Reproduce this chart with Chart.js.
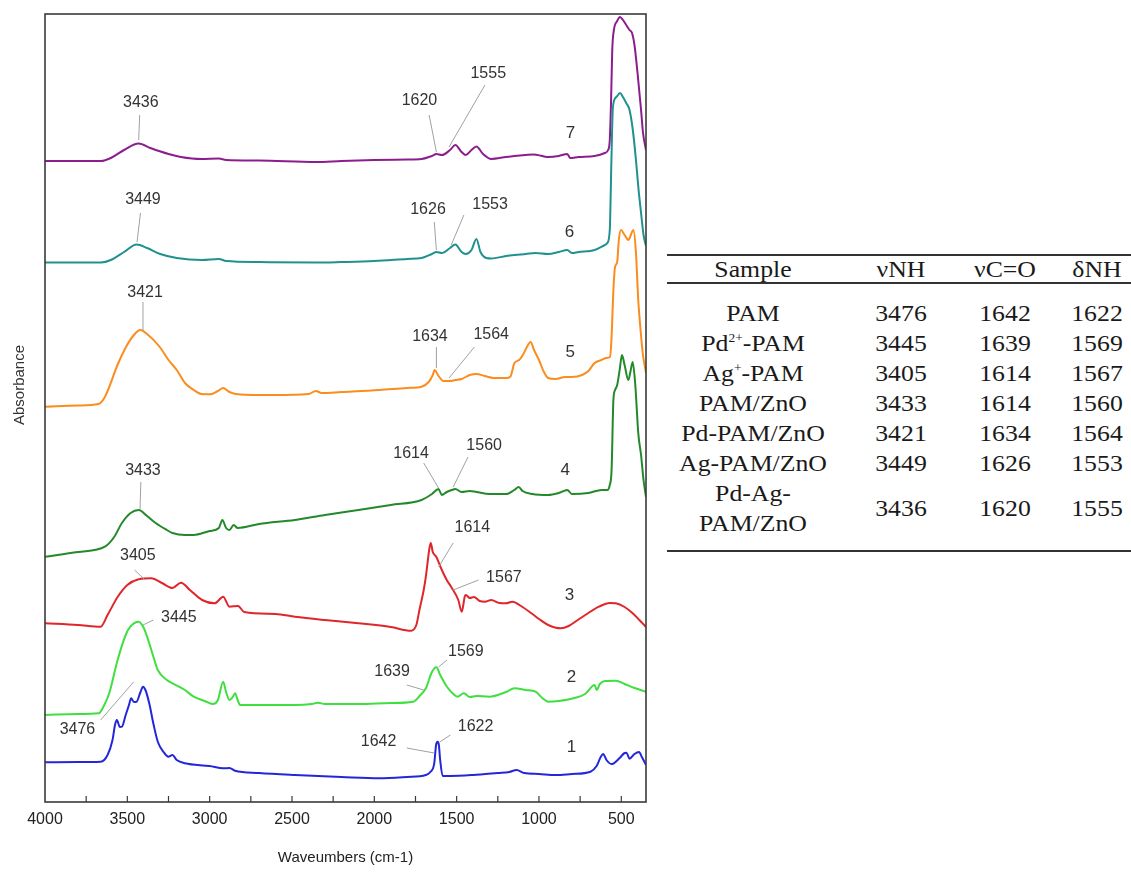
<!DOCTYPE html>
<html><head><meta charset="utf-8">
<script src="https://cdn.jsdelivr.net/npm/chart.js@4.4.1/dist/chart.umd.min.js"></script>
<style>
html,body{margin:0;padding:0;background:#fff;}
#wrap{position:relative;width:1131px;height:883px;overflow:hidden;background:#fff;}
#c{position:absolute;left:0;top:0;}
.rule{position:absolute;left:667px;width:464px;height:2px;background:#333;}
.cell{position:absolute;font-family:"Liberation Serif",serif;font-size:23px;color:#1a1a1a;transform:translate(-50%,-50%) scaleX(1.12);white-space:nowrap;line-height:30px;text-align:center;}
.cell sup{font-size:12px;vertical-align:9px;line-height:0;}
</style></head>
<body><div id="wrap"><canvas id="c" width="660" height="883"></canvas><div id="tbl"></div></div>
<script>
// ---------------- DATA ----------------
const xTickValues = [4000,3500,3000,2500,2000,1500,1000,500];

// 1: PAM (blue)
const wn1 = [4000,3800,3662,3620,3590,3575,3564,3545,3533,3510,3490,3477,3460,3444,3420,3405,3390,3367,3340,3315,3280,3251,3226,3200,3150,3000,2918,2880,2846,2700,2482,2200,1969,1800,1687,1660,1636,1625,1615,1608,1600,1585,1540,1400,1250,1180,1136,1090,1000,900,800,687,650,625,610,590,560,546,510,480,469,450,420,392,375,350];
const abs1 = [0.397,0.40,0.403,0.47,0.62,0.77,0.82,0.75,0.753,0.87,0.97,1.037,1.00,1.003,1.10,1.153,1.12,0.987,0.77,0.603,0.50,0.453,0.47,0.42,0.387,0.36,0.337,0.34,0.313,0.29,0.27,0.25,0.237,0.25,0.27,0.30,0.387,0.57,0.603,0.57,0.42,0.26,0.26,0.27,0.29,0.30,0.32,0.29,0.28,0.27,0.28,0.303,0.36,0.45,0.48,0.42,0.38,0.387,0.44,0.49,0.493,0.433,0.48,0.50,0.45,0.37];

// 2: Pd2+-PAM (light green)
const wn2 = [4000,3800,3674,3640,3610,3559,3510,3482,3431,3400,3380,3345,3315,3260,3226,3150,3097,3030,2982,2950,2918,2900,2880,2860,2846,2830,2815,2700,2482,2380,2341,2300,2097,1900,1764,1720,1687,1650,1623,1600,1559,1520,1495,1456,1420,1380,1303,1200,1149,1080,1021,980,944,880,790,720,662,650,630,600,533,480,420,350];
const abs2 = [0.87,0.88,0.887,0.97,1.087,1.42,1.67,1.753,1.803,1.74,1.653,1.47,1.32,1.22,1.187,1.12,1.053,1.01,0.98,1.02,1.203,1.10,1.02,1.05,1.087,1.02,0.97,0.97,0.97,0.98,0.993,0.98,0.98,0.99,1.003,1.07,1.137,1.30,1.347,1.27,1.153,1.08,1.053,1.087,1.05,1.06,1.053,1.10,1.137,1.12,1.103,1.04,1.003,1.01,1.037,1.08,1.17,1.12,1.18,1.21,1.213,1.18,1.14,1.103];

// 3: Ag+-PAM (red)
const wn3 = [4000,3800,3662,3620,3559,3500,3431,3354,3290,3226,3174,3120,3046,2969,2918,2880,2828,2790,2600,2482,2300,2097,1900,1777,1745,1726,1700,1687,1665,1657,1645,1623,1598,1560,1533,1490,1469,1450,1444,1420,1395,1360,1328,1290,1240,1200,1162,1100,1046,1000,944,867,820,764,700,636,570,533,480,431,390,350];
const abs3 = [1.787,1.77,1.753,1.87,2.05,2.17,2.227,2.237,2.19,2.14,2.193,2.12,2.02,1.987,2.053,1.953,1.96,1.90,1.88,1.853,1.82,1.787,1.75,1.713,1.77,1.92,2.12,2.253,2.54,2.59,2.50,2.45,2.35,2.22,2.15,2.02,1.903,2.06,2.07,2.04,2.05,2.01,2.003,2.02,1.99,1.987,2.003,1.95,1.887,1.83,1.77,1.737,1.76,1.82,1.89,1.953,1.99,1.987,1.95,1.887,1.82,1.75];

// 4: PAM/ZnO (dark green)
const wn4 = [4000,3800,3636,3580,3533,3480,3431,3380,3328,3260,3226,3150,3097,3000,2944,2923,2900,2880,2854,2830,2700,2482,2300,2097,1900,1713,1650,1610,1590,1560,1530,1508,1470,1420,1380,1300,1200,1150,1123,1100,1040,944,880,828,800,700,620,585,570,559,548,538,525,510,496,480,457,445,431,415,397,380,365,350];
const abs4 = [2.453,2.50,2.553,2.65,2.79,2.89,2.92,2.86,2.79,2.72,2.69,2.67,2.67,2.71,2.74,2.82,2.74,2.72,2.77,2.74,2.78,2.82,2.87,2.92,2.97,3.02,3.08,3.13,3.07,3.10,3.12,3.13,3.10,3.11,3.10,3.08,3.08,3.12,3.15,3.11,3.08,3.07,3.09,3.12,3.08,3.09,3.12,3.12,3.17,3.32,4.02,4.12,4.17,4.32,4.47,4.37,4.22,4.30,4.40,4.17,3.69,3.47,3.22,3.05];

// 5: Pd-PAM/ZnO (orange)
const wn5 = [4000,3800,3674,3640,3610,3560,3508,3460,3421,3380,3303,3250,3200,3150,3097,3050,2995,2950,2918,2880,2841,2700,2610,2400,2354,2320,2200,1969,1800,1713,1670,1645,1634,1610,1580,1540,1508,1470,1420,1380,1330,1277,1200,1174,1149,1120,1098,1070,1051,1030,1000,970,944,900,841,800,738,700,662,620,590,569,560,548,538,525,515,502,480,457,440,427,412,397,383,370,350];
const abs5 = [3.953,3.965,3.98,4.04,4.15,4.37,4.55,4.67,4.72,4.68,4.55,4.42,4.32,4.19,4.12,4.08,4.077,4.11,4.14,4.10,4.08,4.07,4.07,4.08,4.11,4.09,4.10,4.12,4.14,4.153,4.20,4.27,4.32,4.26,4.21,4.21,4.22,4.23,4.27,4.28,4.26,4.24,4.24,4.253,4.39,4.42,4.47,4.56,4.60,4.52,4.42,4.30,4.24,4.23,4.25,4.25,4.27,4.31,4.39,4.42,4.44,4.45,4.62,5.12,5.35,5.40,5.62,5.72,5.67,5.62,5.68,5.72,5.52,5.02,4.72,4.49,4.29];

// 6: Ag-PAM/ZnO (teal)
const wn6 = [4000,3800,3660,3600,3520,3444,3380,3300,3200,3046,2944,2900,2700,2354,2200,2000,1800,1713,1650,1623,1590,1540,1508,1470,1444,1410,1380,1355,1320,1290,1200,1149,1080,1021,944,880,828,800,760,662,600,585,570,560,551,530,508,490,470,450,430,411,395,380,365,350];
const abs6 = [5.395,5.395,5.395,5.42,5.50,5.575,5.54,5.48,5.44,5.42,5.43,5.41,5.40,5.395,5.40,5.41,5.43,5.44,5.48,5.50,5.49,5.54,5.575,5.50,5.48,5.52,5.63,5.50,5.44,5.435,5.46,5.47,5.48,5.49,5.48,5.50,5.52,5.49,5.50,5.52,5.57,5.59,5.72,6.42,6.95,7.05,7.09,7.05,6.99,6.92,6.72,6.42,6.12,5.89,5.67,5.56];

// 7: Pd-Ag-PAM/ZnO (purple)
const wn7 = [4000,3800,3660,3600,3520,3431,3360,3250,3175,3050,2944,2900,2700,2354,2200,2000,1800,1713,1650,1623,1590,1540,1508,1470,1444,1410,1380,1340,1290,1200,1149,1080,1033,980,944,880,828,810,760,662,600,580,570,562,555,545,525,508,490,470,450,435,420,399,380,368,350];
const abs7 = [6.41,6.41,6.41,6.44,6.52,6.585,6.54,6.48,6.45,6.43,6.435,6.42,6.415,6.40,6.41,6.42,6.425,6.43,6.46,6.48,6.47,6.52,6.57,6.50,6.47,6.52,6.555,6.48,6.43,6.45,6.46,6.47,6.475,6.46,6.45,6.46,6.48,6.44,6.45,6.46,6.49,6.52,6.62,7.02,7.52,7.72,7.81,7.85,7.82,7.77,7.72,7.69,7.57,7.25,6.92,6.69,6.52];

const curveNames = ['1','2','3','4','5','6','7'];
const curveColors = ['#2327d9','#3fdf3f','#e0262a','#23892a','#fb8c1e','#1f918f','#8c1d8d'];

// peak annotations: label, text position (wavenumber, absorbance), leader line (w1,a1,w2,a2)
const annLabels = ['3436','1620','1555','3449','1626','1553','3421','1634','1564','3433','1614','1560','1614','3405','1567','3445','1639','1569','3476','1642','1622'];
const annTextWn = [3418,1726,1308,3405,1674,1297,3392,1662,1290,3405,1777,1333,1405,3436,1213,3187,1892,1444,3803,1974,1385];
const annTextAb = [6.99,7.01,7.28,6.02,5.92,5.97,5.09,4.65,4.67,3.31,3.48,3.56,2.74,2.46,2.24,1.84,1.30,1.50,0.72,0.60,0.75];
const annLineFrom = [[3425,6.87],[1667,6.87],[1328,7.17],[3420,5.89],[1636,5.80],[1456,5.87],[3405,5.00],[1623,4.55],[1392,4.55],[3418,3.20],[1700,3.39],[1431,3.45],[1521,2.59],[3456,2.32],[1367,2.22],[3341,1.82],[1803,1.17],[1559,1.42],[3662,0.82],[1803,0.54],[1538,0.67]];
const annLineTo = [[3431,6.62],[1623,6.50],[1546,6.55],[3441,5.60],[1623,5.52],[1533,5.57],[3405,4.72],[1623,4.34],[1546,4.24],[3423,2.92],[1610,3.14],[1521,3.15],[1610,2.35],[3392,2.22],[1521,2.12],[3405,1.77],[1700,1.12],[1610,1.35],[3462,1.20],[1636,0.49],[1603,0.60]];
// curve number labels
const numLabelWn = [803,803,815,841,810,815,808];
const numLabelAb = [0.55,1.25,2.07,3.32,4.50,5.70,6.69];

// table
const tblSamples = ['PAM','Pd<sup>2+</sup>-PAM','Ag<sup>+</sup>-PAM','PAM/ZnO','Pd-PAM/ZnO','Ag-PAM/ZnO','Pd-Ag-<br>PAM/ZnO'];
const tblNH = ['3476','3445','3405','3433','3421','3449','3436'];
const tblCO = ['1642','1639','1614','1614','1634','1626','1620'];
const tblDNH = ['1622','1569','1567','1560','1564','1553','1555'];
const tblHead = ['Sample','νNH','νC=O','δNH'];

// ---------------- TABLE ----------------
(function(){
  const t = document.getElementById('tbl');
  const colX = [753,901,1005,1097];
  function add(html, x, y){ const d=document.createElement('div'); d.className='cell'; d.innerHTML=html; d.style.left=x+'px'; d.style.top=y+'px'; t.appendChild(d); }
  function rule(y){ const r=document.createElement('div'); r.className='rule'; r.style.top=y+'px'; t.appendChild(r); }
  rule(254); rule(282); rule(550);
  tblHead.forEach((h,i)=>add(h,colX[i],270));
  const rowY = [314,344,374,404,434,464,509];
  for(let i=0;i<tblSamples.length;i++){
    add(tblSamples[i],colX[0],rowY[i]);
    add(tblNH[i],colX[1],rowY[i]);
    add(tblCO[i],colX[2],rowY[i]);
    add(tblDNH[i],colX[3],rowY[i]);
  }
})();

// ---------------- CHART ----------------
const framePlugin = {
  id:'frame',
  afterDatasetsDraw(chart){
    const {ctx, chartArea:a, scales:{x}} = chart;
    ctx.save();
    ctx.strokeStyle='#3a3a3a'; ctx.lineWidth=1.6;
    ctx.strokeRect(a.left, a.top, a.right-a.left, a.bottom-a.top);
    ctx.lineWidth=1.2;
    for(let v=500; v<4000; v+=250){
      const px = x.getPixelForValue(v);
      ctx.beginPath(); ctx.moveTo(px, a.bottom); ctx.lineTo(px, a.bottom-6); ctx.stroke();
    }
    // y axis title
    ctx.translate(20, 385); ctx.rotate(-Math.PI/2);
    ctx.fillStyle='#333'; ctx.font='15px "Liberation Sans", Arial, sans-serif';
    ctx.textAlign='center'; ctx.textBaseline='middle';
    ctx.fillText('Absorbance',0,0);
    ctx.restore();
  }
};
const annPlugin = {
  id:'ann',
  afterDatasetsDraw(chart){
    const {ctx, scales:{x,y}} = chart;
    ctx.save();
    ctx.strokeStyle='#a0a0a0'; ctx.lineWidth=1;
    for(let i=0;i<annLabels.length;i++){
      ctx.beginPath();
      ctx.moveTo(x.getPixelForValue(annLineFrom[i][0]), y.getPixelForValue(annLineFrom[i][1]));
      ctx.lineTo(x.getPixelForValue(annLineTo[i][0]), y.getPixelForValue(annLineTo[i][1]));
      ctx.stroke();
    }
    ctx.fillStyle='#333'; ctx.textAlign='center'; ctx.textBaseline='middle';
    ctx.font='16px "Liberation Sans", Arial, sans-serif';
    for(let i=0;i<annLabels.length;i++){
      ctx.fillText(annLabels[i], x.getPixelForValue(annTextWn[i]), y.getPixelForValue(annTextAb[i]));
    }
    ctx.font='17px "Liberation Sans", Arial, sans-serif';
    for(let i=0;i<curveNames.length;i++){
      ctx.fillText(curveNames[i], x.getPixelForValue(numLabelWn[i]), y.getPixelForValue(numLabelAb[i]));
    }
    ctx.restore();
  }
};

const wnSets=[wn1,wn2,wn3,wn4,wn5,wn6,wn7];
const abSets=[abs1,abs2,abs3,abs4,abs5,abs6,abs7];
const datasets = wnSets.map((w,k)=>({
  label: curveNames[k],
  data: w.map((v,i)=>({x:v, y:abSets[k][i]})),
  borderColor: curveColors[k],
  borderWidth: 2,
  pointRadius: 0,
  fill: false,
  cubicInterpolationMode: 'monotone'
}));

new Chart(document.getElementById('c').getContext('2d'), {
  type:'line',
  data:{datasets},
  options:{
    responsive:false, animation:false,
    layout:{padding:{left:0, top:14, right:14, bottom:0}},
    plugins:{legend:{display:false}, tooltip:{enabled:false}},
    scales:{
      x:{
        type:'linear', reverse:true, min:350, max:4000,
        afterBuildTicks:(s)=>{ s.ticks = xTickValues.map(v=>({value:v})); },
        afterFit:(s)=>{ s.height = 81; },
        ticks:{ font:{family:'"Liberation Sans", Arial, sans-serif', size:16}, color:'#222', padding:8, maxRotation:0, autoSkip:false, callback:(v)=>String(v) },
        grid:{ display:false, drawTicks:false },
        border:{ display:false },
        title:{ display:true, text:'Waveumbers (cm-1)', font:{family:'"Liberation Sans", Arial, sans-serif', size:15}, color:'#222', padding:{top:0,bottom:16} }
      },
      y:{
        min:0, max:7.88,
        ticks:{ display:false },
        grid:{ display:false, drawTicks:false },
        border:{ display:false },
        afterFit:(s)=>{ s.width = 45; }
      }
    }
  },
  plugins:[framePlugin, annPlugin]
});
</script>
</body></html>
